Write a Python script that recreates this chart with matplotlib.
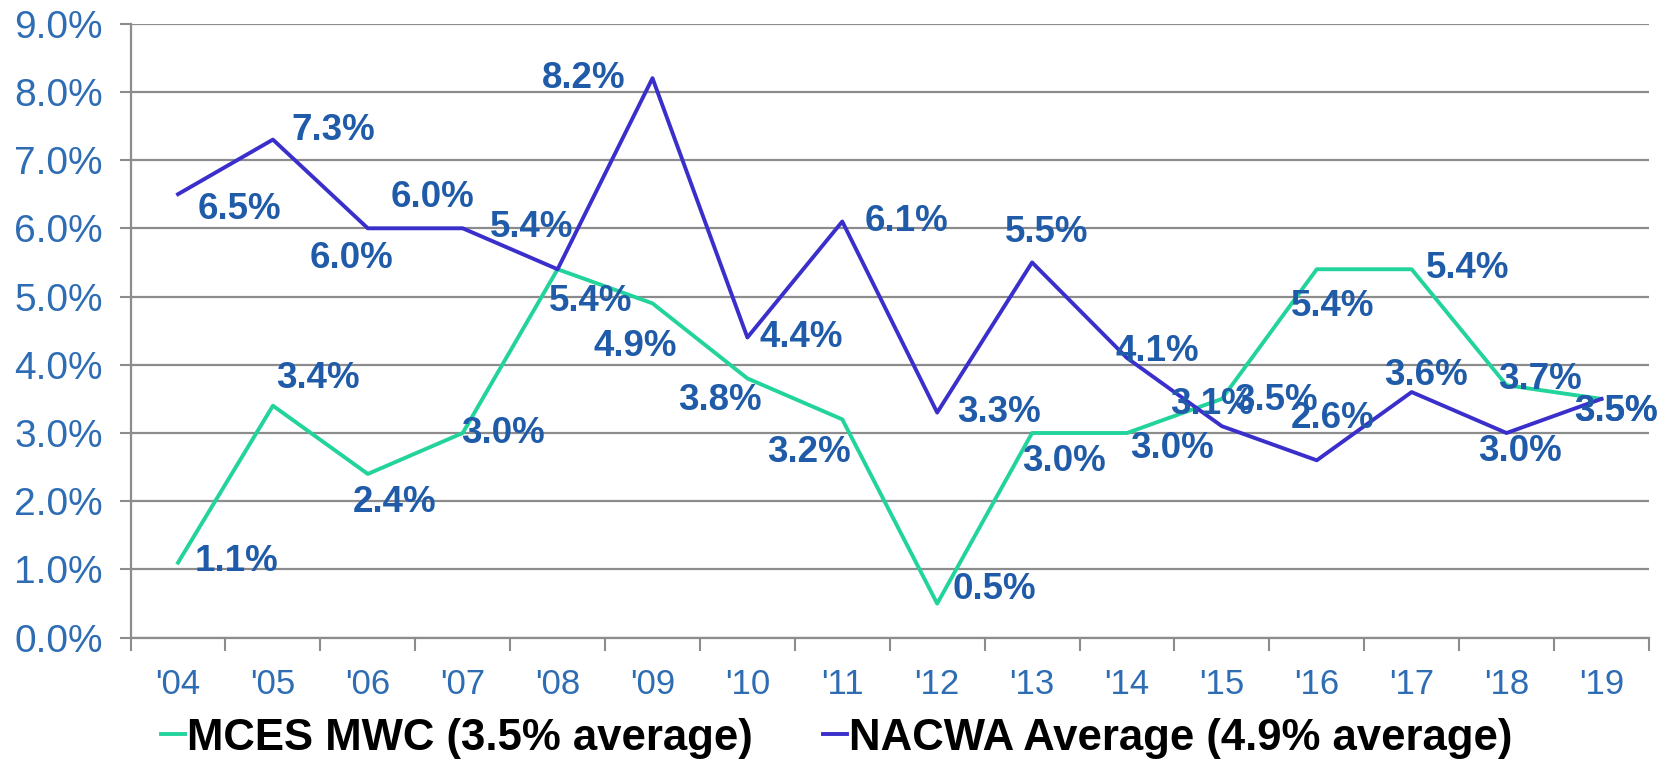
import matplotlib.pyplot as plt
import numpy as np

# data
years = ["'04", "'05", "'06", "'07", "'08", "'09", "'10", "'11",
         "'12", "'13", "'14", "'15", "'16", "'17", "'18", "'19"]
mces = [1.1, 3.4, 2.4, 3.0, 5.4, 4.9, 3.8, 3.2, 0.5, 3.0, 3.0, 3.5, 5.4, 5.4, 3.7, 3.5]
nacwa = [6.5, 7.3, 6.0, 6.0, 5.4, 8.2, 4.4, 6.1, 3.3, 5.5, 4.1, 3.1, 2.6, 3.6, 3.0, 3.5]
mces_name = "MCES MWC (3.5% average)"
nacwa_name = "NACWA Average (4.9% average)"

# label offsets (pixels, dx right, dy up) relative to each point
mces_off = [(58, 1), (45, 27), (27, -29), (40, 0), (33, -32), (-17, -43), (-27, -22), (-33, -33),
            (57, 14), (32, -28), (45, -15), (54, -2), (16, -37), (56, 1), (33, 6), (14, -13)]
nacwa_off = [(61, -15), (60, 9), (-16, -30), (-30, 31), (-26, 42), (-69, 0), (54, 0), (64, 0),
             (62, 0), (15, 30), (30, 6), (-10, 22), (16, 42), (14, 17), (13, -18), (14, -13)]

plt.rcParams['font.family'] = ['Liberation Sans', 'DejaVu Sans']

fig = plt.figure(figsize=(16.74, 7.61), dpi=100)
ax = fig.add_axes([0.078, 0.162, 0.907, 0.807])

x = np.arange(len(years))
green = '#22D39C'
blue = '#3A2FCB'
lblc = '#1F5BA8'

l1, = ax.plot(x, mces, color=green, lw=2.8, label=mces_name, zorder=3)
l2, = ax.plot(x, nacwa, color=blue, lw=2.8, label=nacwa_name, zorder=3)

for xi, v, (dx, dy) in zip(x, mces, mces_off):
    ax.annotate('%.1f%%' % v, (xi, v), xytext=(dx, dy), textcoords='offset pixels',
                ha='center', va='center', fontsize=26.5, fontweight='bold', color=lblc, zorder=4)
for xi, v, (dx, dy) in zip(x, nacwa, nacwa_off):
    ax.annotate('%.1f%%' % v, (xi, v), xytext=(dx, dy), textcoords='offset pixels',
                ha='center', va='center', fontsize=26.5, fontweight='bold', color=lblc, zorder=4)

ax.set_xlim(-0.5, len(years) - 0.5)
ax.set_ylim(0, 9)
ax.set_yticks(np.arange(0, 9.5, 1))
ax.set_yticklabels(['%.1f%%' % t for t in np.arange(0, 9.5, 1)])
ax.set_xticks(x)
ax.set_xticklabels(years)
ax.set_xticks(np.arange(-0.5, len(years), 1), minor=True)
ax.tick_params(axis='x', which='major', length=0, pad=22, labelsize=25, labelcolor='#2E6DB4')
ax.tick_params(axis='x', which='minor', length=9, width=1.5, color='#8c8c8c')
ax.tick_params(axis='y', length=8, width=1.5, color='#8c8c8c', pad=12, labelsize=28,
               labelcolor='#2E6DB4')

ax.grid(axis='y', color='#8c8c8c', lw=1.6)
ax.set_axisbelow(True)
for s in ['top', 'right']:
    ax.spines[s].set_visible(False)
for s in ['left', 'bottom']:
    ax.spines[s].set_color('#8c8c8c')
    ax.spines[s].set_linewidth(1.6)

leg = fig.legend(handles=[l1, l2], loc='center', bbox_to_anchor=(0.5, 0.03), ncol=2,
                 frameon=False, handlelength=0.55, handletextpad=0.05, columnspacing=1.6,
                 prop={'size': 31.5, 'weight': 'bold'})

fig.savefig('out.png', dpi=100)
